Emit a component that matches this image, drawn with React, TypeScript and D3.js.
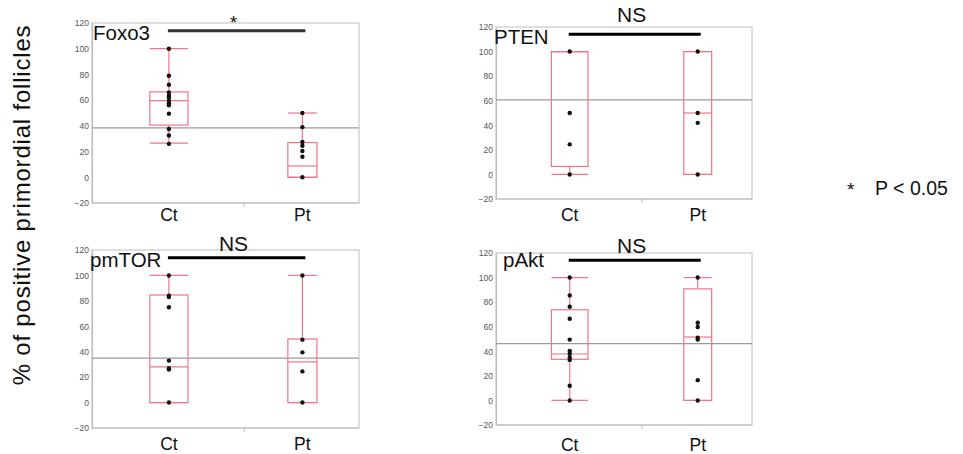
import React from 'react';
import * as d3 from 'd3';

const categories = ["Ct", "Pt"];
const yTicks = [-20, 0, 20, 40, 60, 80, 100, 120];

const panelNames = ["Foxo3", "PTEN", "pmTOR", "pAkt"];
const sigLabels = ["*", "NS", "NS", "NS"];
const meanValues = [38.5, 60.7, 35, 46.2];

// box stats: [whisker low, q1, median, q3, whisker high]
const foxo3CtBox = [26.5, 40.6, 59.6, 66.4, 100];
const foxo3PtBox = [0, 0, 8.8, 27, 50];
const ptenCtBox = [0, 6.5, 100, 100, 100];
const ptenPtBox = [0, 0, 50, 100, 100];
const pmtorCtBox = [0, 0, 28, 84.6, 100];
const pmtorPtBox = [0, 0, 32, 50, 100];
const paktCtBox = [0, 33.5, 37.8, 73.8, 100];
const paktPtBox = [0, 0, 51.6, 90.8, 100];

// individual points
const foxo3CtPts = [100, 79, 72, 66, 63.5, 62, 59.5, 57.5, 56, 49.5, 37.5, 32.5, 26];
const foxo3PtPts = [50, 39, 27.5, 24.5, 20.5, 16, 0];
const ptenCtPts = [100, 50, 24.5, 0];
const ptenPtPts = [100, 50, 42, 0];
const pmtorCtPts = [100, 84, 83, 75, 33, 27, 26, 0];
const pmtorPtPts = [100, 49.5, 39.5, 24.5, 0];
const paktCtPts = [100, 85.4, 76.2, 66.5, 49.5, 40.3, 38, 35, 33, 12, 0];
const paktPtPts = [100, 63.2, 59.8, 51, 49.5, 16.5, 0];

const boxes = [
    [foxo3CtBox, foxo3PtBox],
    [ptenCtBox, ptenPtBox],
    [pmtorCtBox, pmtorPtBox],
    [paktCtBox, paktPtBox],
];
const points = [
    [foxo3CtPts, foxo3PtPts],
    [ptenCtPts, ptenPtPts],
    [pmtorCtPts, pmtorPtPts],
    [paktCtPts, paktPtPts],
];

// layout of each panel (pixels)
const layout = [
    { left: 92, right: 359, top: 23, bottom: 203, catY: 221, titleX: 93, titleY: 40, sigY: 29, sigSize: 18 },
    { left: 496, right: 752, top: 27, bottom: 199, catY: 221, titleX: 494, titleY: 44, sigY: 22, sigSize: 21 },
    { left: 92, right: 359, top: 250, bottom: 428, catY: 450, titleX: 90, titleY: 267, sigY: 251, sigSize: 21 },
    { left: 496, right: 752, top: 253, bottom: 425, catY: 451, titleX: 503, titleY: 267, sigY: 253, sigSize: 21 },
];

const font = "'Liberation Sans', Arial, sans-serif";
const red = "#f27585";

const plotPanel = (svg, i) => {
    const L = layout[i];
    const w = L.right - L.left;

    const y = d3.scaleLinear().domain([-20, 120]).range([L.bottom, L.top]);
    const x = d3.scalePoint().domain(categories)
        .range([L.left + 0.288 * w, L.left + 0.788 * w]);
    const boxW = { Ct: 0.143 * w, Pt: 0.109 * w };

    const g = svg.append('g');

    // frame
    g.append('rect')
        .attr('x', L.left).attr('y', L.top)
        .attr('width', w).attr('height', L.bottom - L.top)
        .attr('fill', 'white')
        .attr('stroke', '#d4d4d4')
        .attr('stroke-width', 1.5);

    // y axis
    const yAxis = g.append('g')
        .attr('transform', 'translate(' + L.left + ',0)')
        .call(d3.axisLeft(y).tickValues(yTicks).tickSize(0).tickSizeOuter(0).tickPadding(3));
    yAxis.select('.domain').attr('stroke', '#bdbdbd').attr('stroke-width', 1.2);
    yAxis.selectAll('text')
        .attr('fill', '#555')
        .style('font-size', '8.5px')
        .style('font-family', font);

    // bottom axis line + middle tick
    g.append('line')
        .attr('x1', L.left).attr('x2', L.right)
        .attr('y1', L.bottom).attr('y2', L.bottom)
        .attr('stroke', '#bdbdbd').attr('stroke-width', 1.2);
    g.append('line')
        .attr('x1', L.left + 0.57 * w).attr('x2', L.left + 0.57 * w)
        .attr('y1', L.bottom).attr('y2', L.bottom + 4)
        .attr('stroke', '#bdbdbd');

    // mean reference line
    g.append('line')
        .attr('x1', L.left).attr('x2', L.right)
        .attr('y1', y(meanValues[i])).attr('y2', y(meanValues[i]))
        .attr('stroke', '#9a9a9a').attr('stroke-width', 1.2);

    // box plots
    categories.forEach((c, j) => {
        const [lo, q1, med, q3, hi] = boxes[i][j];
        const cx = x(c);
        const bw = boxW[c];
        const bg = g.append('g')
            .attr('stroke', red)
            .attr('stroke-width', 1.2)
            .attr('fill', 'none');

        bg.append('line').attr('x1', cx).attr('x2', cx).attr('y1', y(hi)).attr('y2', y(q3));
        bg.append('line').attr('x1', cx).attr('x2', cx).attr('y1', y(q1)).attr('y2', y(lo));
        bg.append('rect')
            .attr('x', cx - bw / 2).attr('y', y(q3))
            .attr('width', bw).attr('height', y(q1) - y(q3));
        bg.append('line').attr('x1', cx - bw / 2).attr('x2', cx + bw / 2).attr('y1', y(med)).attr('y2', y(med));
        bg.append('line').attr('x1', cx - bw / 2).attr('x2', cx + bw / 2).attr('y1', y(hi)).attr('y2', y(hi));
        bg.append('line').attr('x1', cx - bw / 2).attr('x2', cx + bw / 2).attr('y1', y(lo)).attr('y2', y(lo));

        g.selectAll(null)
            .data(points[i][j])
            .enter().append('circle')
            .attr('cx', cx)
            .attr('cy', d => y(d))
            .attr('r', 2.2)
            .attr('fill', '#111');
    });

    // panel title
    g.append('text')
        .attr('x', L.titleX).attr('y', L.titleY)
        .attr('font-size', '20.5px')
        .attr('font-family', font)
        .attr('fill', '#111')
        .text(panelNames[i]);

    // significance bar
    const x1 = x("Ct") - 1;
    const x2 = x("Pt") + 3;
    g.append('line')
        .attr('x1', x1).attr('x2', x2)
        .attr('y1', y(114)).attr('y2', y(114))
        .attr('stroke', i === 0 ? '#333' : '#000')
        .attr('stroke-width', 3);
    g.append('text')
        .attr('x', L.left + 0.53 * w).attr('y', L.sigY)
        .attr('text-anchor', 'middle')
        .attr('font-size', L.sigSize + 'px')
        .attr('font-family', font)
        .attr('fill', '#111')
        .text(sigLabels[i]);

    // category labels
    categories.forEach(c => {
        g.append('text')
            .attr('x', x(c)).attr('y', L.catY)
            .attr('text-anchor', 'middle')
            .attr('font-size', '17.5px')
            .attr('font-family', font)
            .attr('fill', '#111')
            .text(c);
    });
};

const plotChart = (ref) => {
    const svg = d3.select(ref.current);
    svg.selectAll('*').remove();

    panelNames.forEach((n, i) => plotPanel(svg, i));

    // shared y title
    svg.append('text')
        .attr('transform', 'translate(30,205) rotate(-90)')
        .attr('text-anchor', 'middle')
        .attr('font-size', '24px')
        .attr('letter-spacing', '0.8px')
        .attr('font-family', font)
        .attr('fill', '#111')
        .text('% of positive  primordial  follicles');

    // legend
    svg.append('text')
        .attr('x', 847).attr('y', 196)
        .attr('font-size', '19px')
        .attr('font-family', font)
        .attr('fill', '#111')
        .text('*');
    svg.append('text')
        .attr('x', 875).attr('y', 195)
        .attr('font-size', '19.5px')
        .attr('font-family', font)
        .attr('fill', '#111')
        .text('P < 0.05');
};

export default function App() {
    const ref = React.useRef(null);

    React.useEffect(() => {
        plotChart(ref);
    }, []);

    return (
        <svg
            ref={ref}
            width={963}
            height={454}
            style={{ position: 'absolute', left: 0, top: 0, background: 'white' }}
        />
    );
}
